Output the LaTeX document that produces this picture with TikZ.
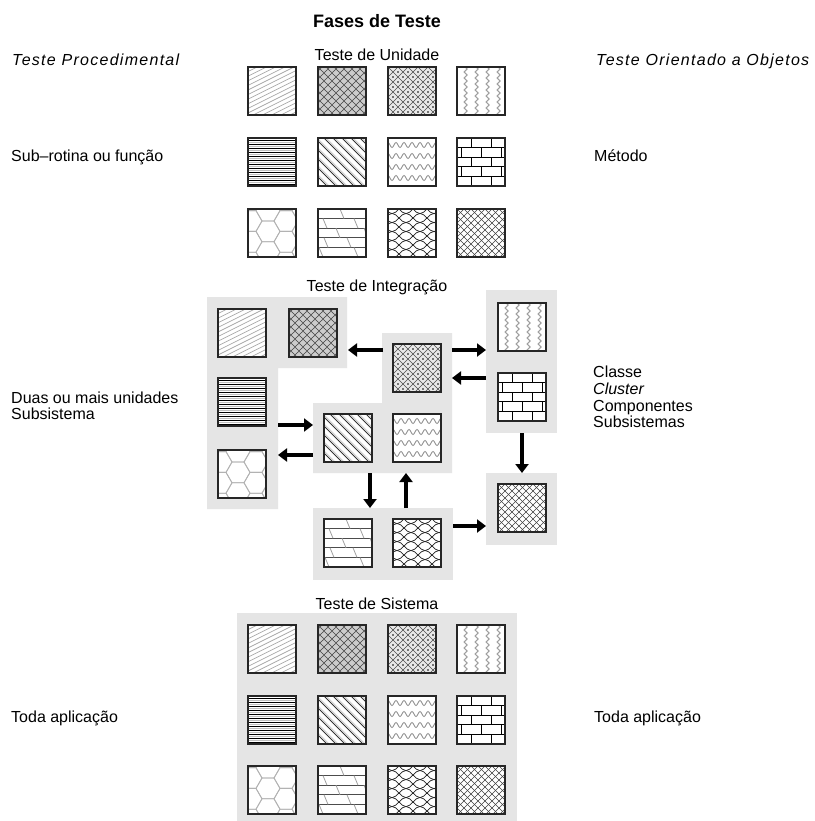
\documentclass[tikz,border=0pt]{standalone}
\usepackage{fontspec}
\setmainfont{Liberation Sans}
\usetikzlibrary{arrows.meta}

\tikzset{
  panel/.style={fill=gray!20, draw=none},
  sqbox/.style={draw=black!85, line width=1.2pt, minimum size=48pt, inner sep=0pt, outer sep=0pt},
  flow/.style={line width=4pt, -{Triangle[length=9pt,width=13pt]}},
  lbl/.style={font=\fontsize{16}{19}\selectfont, inner sep=0pt, anchor=base west},
  lblit/.style={font=\fontsize{16}{19}\selectfont\itshape, inner sep=0pt, anchor=base west},
  lblc/.style={font=\fontsize{16}{19}\selectfont, inner sep=0pt, anchor=base},
  ttl/.style={font=\fontsize{18}{21}\selectfont\bfseries, inner sep=0pt, anchor=base},
  hatch/.style={line width=0.7pt}
}

% ---- fill patterns, local coordinates 0..48, y downwards ----
\newcommand\patA{% fine shallow diagonal
  \foreach \k in {-1,...,16} \draw[gray!70, hatch] (0,4.6*\k) -- (48,4.6*\k-24);}
\newcommand\patB{% dense dark scallops
  \fill[gray!40] (0,0) rectangle (48,48);
  \foreach \r in {0,...,12} {\draw[black!75, line width=0.55pt] ({-4*mod(\r,2)},{4*\r})
     \foreach \i in {1,...,7} { sin ++(2,1.8) cos ++(2,-1.8) sin ++(2,-1.8) cos ++(2,1.8) };}}
\newcommand\patC{% diamond grid with dots
  \fill[gray!18] (0,0) rectangle (48,48);
  \foreach \c in {-50,-40,...,50} \draw[black!70, line width=0.6pt] (\c,0) -- (\c+48,48);
  \foreach \c in {0,10,...,100} \draw[black!70, line width=0.6pt] (\c,0) -- (\c-48,48);
  \foreach \m in {0,...,4} \foreach \n in {0,...,4} {
     \fill[black] (10*\m+5,10*\n) circle[radius=0.8pt];
     \fill[black] (10*\m,10*\n+5) circle[radius=0.8pt];}}
\newcommand\patD{% vertical zigzags
  \foreach \x in {7,18,29,40} \draw[gray!75, line width=1pt] (\x,-1)
     \foreach \i in {1,...,9} { -- ++(3.2,3) -- ++(-3.2,3) };}
\newcommand\patE{% horizontal lines
  \foreach \y in {2,6,...,46} \draw[black, line width=0.9pt] (0,\y) -- (48,\y);
  \foreach \y in {4,8,...,44} \draw[gray!50, line width=0.4pt] (0,\y) -- (48,\y);}
\newcommand\patF{% 45 degree diagonals
  \foreach \c in {-48,-39,...,48} {
     \draw[black!80, line width=0.8pt] (\c,0) -- (\c+48,48);
     \draw[gray!50, line width=0.6pt] (\c+2.2,0) -- (\c+50.2,48);}}
\newcommand\patG{% horizontal waves
  \foreach \y in {7,18,29,40} \draw[gray!85, line width=0.9pt] (-2,\y)
     \foreach \i in {1,...,7} { sin ++(2,-2.5) cos ++(2,2.5) sin ++(2,2.5) cos ++(2,-2.5) };}
\newcommand\patH{% brick
  \foreach \y in {9.6,19.2,28.8,38.4} \draw[black, line width=1pt] (0,\y) -- (48,\y);
  \foreach \r in {0,2,4} \foreach \x in {14,34} \draw[black, line width=1pt] (\x,9.6*\r) -- (\x,9.6*\r+9.6);
  \foreach \r in {1,3} \foreach \x in {4,24,44} \draw[black, line width=1pt] (\x,9.6*\r) -- (\x,9.6*\r+9.6);}
\newcommand\patI{% hexagons
  \foreach \i in {0,...,3} \foreach \j in {-1,...,2} {
    \pgfmathsetmacro\cx{18*\i+2}
    \pgfmathsetmacro\cy{20.78*\j+10.39*mod(\i,2)+12}
    \draw[gray!60, line width=0.8pt] (\cx-12,\cy) -- (\cx-6,\cy-10.39) -- (\cx+6,\cy-10.39)
       -- (\cx+12,\cy) -- (\cx+6,\cy+10.39) -- (\cx-6,\cy+10.39) -- cycle;}}
\newcommand\patJ{% slanted parquet
  \foreach \y in {9.6,19.2,28.8,38.4} \draw[black!70, line width=0.8pt] (0,\y) -- (48,\y);
  \foreach \r/\a in {0/22,1/5,1/36,2/18,2/46,3/6,3/29,4/1,4/36}
     \draw[gray!75, line width=0.8pt] (\a,9.6*\r) -- (\a+4,9.6*\r+9.6);}
\newcommand\patK{% ogee net
  \foreach \k in {-1,...,6} {
    \draw[black!85, line width=0.75pt] (-3,9*\k)
       \foreach \i in {1,2} { sin ++(7,4.6) cos ++(7,-4.6) sin ++(7,-4.6) cos ++(7,4.6) };
    \draw[black!85, line width=0.75pt] (-3,9*\k)
       \foreach \i in {1,2} { sin ++(7,-4.6) cos ++(7,4.6) sin ++(7,4.6) cos ++(7,-4.6) };}}
\newcommand\patL{% fine diamond crosshatch
  \foreach \c in {-49,-42,...,49} \draw[black!75, line width=0.55pt] (\c,0) -- (\c+48,48);
  \foreach \c in {0,7,...,98} \draw[black!75, line width=0.55pt] (\c,0) -- (\c-48,48);}

% square with pattern: name, left x, top y, pattern
\newcommand\sq[4]{%
  \begin{scope}[shift={(#2,#3)}]
    \fill[white] (0,0) rectangle (48,48);
    \begin{scope}\clip (0,0) rectangle (48,48); #4 \end{scope}
    \node[sqbox] (#1) at (24,24) {};
  \end{scope}}

\begin{document}
\begin{tikzpicture}[x=1pt,y=-1pt]
\useasboundingbox[fill=white] (0,0) rectangle (814,821);

% ---------- texts ----------
\node[ttl] (title) at (377,28) {Fases de Teste};
\node[lblc] (tunit) at (377,61) {Teste de Unidade};
\node[lblit] (tproc) at (12,66) {\addfontfeature{LetterSpace=8}Teste Procedimental};
\node[lblit] (too) at (596,66) {\addfontfeature{LetterSpace=8}Teste Orientado a Objetos};
\node[lbl] (subrot) at (11,162) {Sub\textendash rotina ou função};
\node[lbl] (metodo) at (594,162) {Método};
\node[lblc] (tinteg) at (377,291) {Teste de Integração};
\node[lbl] (duas) at (11,403) {Duas ou mais unidades};
\node[lbl] (subsis) at (11,419) {Subsistema};
\node[lbl] (classe) at (593,377) {Classe};
\node[lblit] (cluster) at (593,394) {Cluster};
\node[lbl] (compon) at (593,411) {Componentes};
\node[lbl] (subsis2) at (593,427) {Subsistemas};
\node[lblc] (tsist) at (377,609) {Teste de Sistema};
\node[lbl] (toda1) at (11,722) {Toda aplicação};
\node[lbl] (toda2) at (594,722) {Toda aplicação};

% ---------- unit tests ----------
\sq{u1}{248}{67}{\patA}  \sq{u2}{318}{67}{\patB}  \sq{u3}{388}{67}{\patC}  \sq{u4}{457}{67}{\patD}
\sq{u5}{248}{138}{\patE} \sq{u6}{318}{138}{\patF} \sq{u7}{388}{138}{\patG} \sq{u8}{457}{138}{\patH}
\sq{u9}{248}{209}{\patI} \sq{u10}{318}{209}{\patJ} \sq{u11}{388}{209}{\patK} \sq{u12}{457}{209}{\patL}

% ---------- integration tests ----------
\fill[panel] (207,297) -- (347,297) -- (347,368) -- (278,368) -- (278,509) -- (207,509) -- cycle;
\fill[panel] (382,333) -- (452,333) -- (452,473) -- (313,473) -- (313,403) -- (382,403) -- cycle;
\fill[panel] (486,290) rectangle (557,433);
\fill[panel] (486,473) rectangle (557,545);
\fill[panel] (313,508) rectangle (453,580);

\sq{i1}{218}{309}{\patA}  \sq{i2}{289}{309}{\patB}
\sq{i5}{218}{378}{\patE}  \sq{i9}{218}{450}{\patI}
\sq{i3}{393}{344}{\patC}
\sq{i6}{324}{414}{\patF}  \sq{i7}{393}{414}{\patG}
\sq{i4}{498}{303}{\patD}  \sq{i8}{498}{373}{\patH}
\sq{i12}{498}{484}{\patL}
\sq{i10}{324}{519}{\patJ} \sq{i11}{393}{519}{\patK}

% arrow end points on the panel edges
\coordinate (ctL) at (383,350);  \coordinate (ltR) at (348,350);
\coordinate (ctR) at (452,350);  \coordinate (rpL1) at (486,350);
\coordinate (rpL2) at (486,378); \coordinate (ctR2) at (452,378);
\coordinate (lpR1) at (278,425); \coordinate (cpL1) at (313,425);
\coordinate (cpL2) at (313,455); \coordinate (lpR2) at (278,455);
\coordinate (cpB1) at (370,473); \coordinate (bpT1) at (370,508);
\coordinate (bpT2) at (406,508); \coordinate (cpB2) at (406,473);
\coordinate (rpB) at (522,433);  \coordinate (brT) at (522,473);
\coordinate (bpR) at (453,526);  \coordinate (brL) at (486,526);

\draw[flow] (ctL) -- (ltR);
\draw[flow] (ctR) -- (rpL1);
\draw[flow] (rpL2) -- (ctR2);
\draw[flow] (lpR1) -- (cpL1);
\draw[flow] (cpL2) -- (lpR2);
\draw[flow] (cpB1) -- (bpT1);
\draw[flow] (bpT2) -- (cpB2);
\draw[flow] (rpB) -- (brT);
\draw[flow] (bpR) -- (brL);

% ---------- system tests ----------
\fill[panel] (237,613) rectangle (517,821);
\sq{s1}{248}{625}{\patA}  \sq{s2}{318}{625}{\patB}  \sq{s3}{388}{625}{\patC}  \sq{s4}{457}{625}{\patD}
\sq{s5}{248}{696}{\patE}  \sq{s6}{318}{696}{\patF}  \sq{s7}{388}{696}{\patG}  \sq{s8}{457}{696}{\patH}
\sq{s9}{248}{766}{\patI}  \sq{s10}{318}{766}{\patJ} \sq{s11}{388}{766}{\patK} \sq{s12}{457}{766}{\patL}
\end{tikzpicture}
\end{document}
